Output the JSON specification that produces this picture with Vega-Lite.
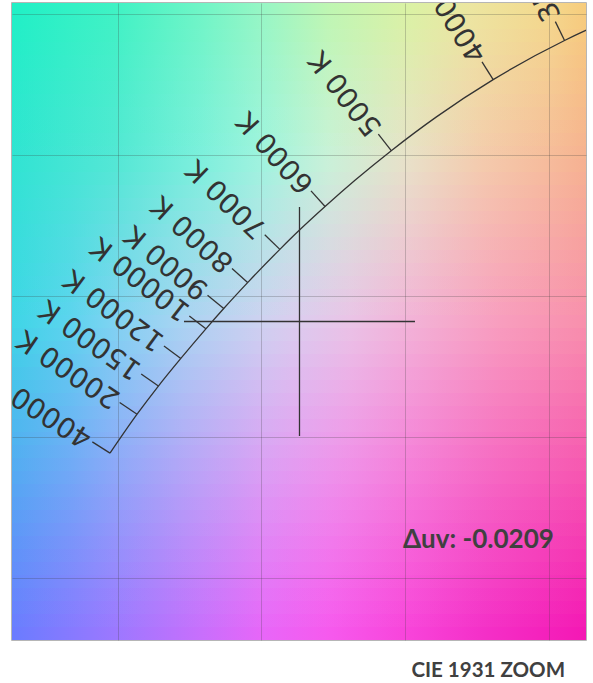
{
  "$schema": "https://vega.github.io/schema/vega-lite/v6.json",
  "width": 574,
  "height": 637,
  "autosize": {"type": "none"},
  "padding": {"left": 12, "top": 3, "right": 7, "bottom": 43},
  "background": "white",
  "config": {
    "view": {"stroke": "#9e9e9e", "strokeWidth": 1.5}
  },
  "title": {"text": "CIE 1931 ZOOM", "orient": "bottom", "anchor": "end", "dx": -21, "offset": 21, "font": "Lato", "fontSize": 20.5, "fontWeight": "bold", "color": "#404040"},
  "resolve": {"scale": {"opacity": "independent"}},
  "datasets": {
    "bands": [
      {"lo": 0.178, "hi": 0.182612}, {"lo": 0.182612, "hi": 0.187224}, {"lo": 0.187224, "hi": 0.191837}, {"lo": 0.191837, "hi": 0.196449},
      {"lo": 0.196449, "hi": 0.201061}, {"lo": 0.201061, "hi": 0.205673}, {"lo": 0.205673, "hi": 0.210286}, {"lo": 0.210286, "hi": 0.214898},
      {"lo": 0.214898, "hi": 0.21951}, {"lo": 0.21951, "hi": 0.224122}, {"lo": 0.224122, "hi": 0.228735}, {"lo": 0.228735, "hi": 0.233347},
      {"lo": 0.233347, "hi": 0.237959}, {"lo": 0.237959, "hi": 0.242571}, {"lo": 0.242571, "hi": 0.247184}, {"lo": 0.247184, "hi": 0.251796},
      {"lo": 0.251796, "hi": 0.256408}, {"lo": 0.256408, "hi": 0.26102}, {"lo": 0.26102, "hi": 0.265633}, {"lo": 0.265633, "hi": 0.270245},
      {"lo": 0.270245, "hi": 0.274857}, {"lo": 0.274857, "hi": 0.279469}, {"lo": 0.279469, "hi": 0.284082}, {"lo": 0.284082, "hi": 0.288694},
      {"lo": 0.288694, "hi": 0.293306}, {"lo": 0.293306, "hi": 0.297918}, {"lo": 0.297918, "hi": 0.302531}, {"lo": 0.302531, "hi": 0.307143},
      {"lo": 0.307143, "hi": 0.311755}, {"lo": 0.311755, "hi": 0.316367}, {"lo": 0.316367, "hi": 0.32098}, {"lo": 0.32098, "hi": 0.325592},
      {"lo": 0.325592, "hi": 0.330204}, {"lo": 0.330204, "hi": 0.334816}, {"lo": 0.334816, "hi": 0.339429}, {"lo": 0.339429, "hi": 0.344041},
      {"lo": 0.344041, "hi": 0.348653}, {"lo": 0.348653, "hi": 0.353265}, {"lo": 0.353265, "hi": 0.357878}, {"lo": 0.357878, "hi": 0.36249},
      {"lo": 0.36249, "hi": 0.367102}, {"lo": 0.367102, "hi": 0.371714}, {"lo": 0.371714, "hi": 0.376327}, {"lo": 0.376327, "hi": 0.380939},
      {"lo": 0.380939, "hi": 0.385551}, {"lo": 0.385551, "hi": 0.390163}, {"lo": 0.390163, "hi": 0.394776}, {"lo": 0.394776, "hi": 0.399388},
      {"lo": 0.399388, "hi": 0.404}
    ],
    "locus": [
      {"T": 40000, "x": 0.2474, "y": 0.2443},
      {"T": 20000, "x": 0.2568, "y": 0.2581},
      {"T": 15000, "x": 0.2642, "y": 0.2681},
      {"T": 12000, "x": 0.272, "y": 0.2779},
      {"T": 10000, "x": 0.2807, "y": 0.2884},
      {"T": 9000, "x": 0.2869, "y": 0.2956},
      {"T": 8000, "x": 0.2952, "y": 0.3048},
      {"T": 7000, "x": 0.3064, "y": 0.3166},
      {"T": 6500, "x": 0.3135, "y": 0.3237},
      {"T": 6000, "x": 0.3221, "y": 0.3318},
      {"T": 5500, "x": 0.3325, "y": 0.3411},
      {"T": 5000, "x": 0.3451, "y": 0.3516},
      {"T": 4500, "x": 0.3608, "y": 0.3636},
      {"T": 4000, "x": 0.3805, "y": 0.3768},
      {"T": 3500, "x": 0.4053, "y": 0.3907},
      {"T": 3200, "x": 0.4234, "y": 0.399},
      {"T": 3000, "x": 0.4369, "y": 0.4041}
    ],
    "ticks": [
      {"T": 3500, "label": "3500 K", "x": 0.4053, "y": 0.3907, "xo": 0.40210, "yo": 0.39740},
      {"T": 4000, "label": "4000 K", "x": 0.3805, "y": 0.3768, "xo": 0.37663, "yo": 0.38312},
      {"T": 5000, "label": "5000 K", "x": 0.3451, "y": 0.3516, "xo": 0.34061, "yo": 0.35747},
      {"T": 6000, "label": "6000 K", "x": 0.3221, "y": 0.3318, "xo": 0.31722, "yo": 0.33734},
      {"T": 7000, "label": "7000 K", "x": 0.3064, "y": 0.3166, "xo": 0.30115, "yo": 0.32178},
      {"T": 8000, "label": "8000 K", "x": 0.2952, "y": 0.3048, "xo": 0.28978, "yo": 0.30979},
      {"T": 9000, "label": "9000 K", "x": 0.2869, "y": 0.2956, "xo": 0.28127, "yo": 0.30034},
      {"T": 10000, "label": "10000 K", "x": 0.2807, "y": 0.2884, "xo": 0.27495, "yo": 0.29299},
      {"T": 12000, "label": "12000 K", "x": 0.272, "y": 0.2779, "xo": 0.26614, "yo": 0.28233},
      {"T": 15000, "label": "15000 K", "x": 0.2642, "y": 0.2681, "xo": 0.25823, "yo": 0.27238},
      {"T": 20000, "label": "20000 K", "x": 0.2568, "y": 0.2581, "xo": 0.25075, "yo": 0.26227},
      {"T": 40000, "label": "40000 K", "x": 0.2474, "y": 0.2443, "xo": 0.24125, "yo": 0.24830}
    ],
    "cross": [
      {"x": 0.2731, "x2": 0.35334, "y": 0.291, "y2": 0.291},
      {"x": 0.31322, "x2": 0.31322, "y": 0.33162, "y2": 0.25038}
    ],
    "note": [
      {"label": "Δuv: -0.0209"}
    ]
  },
  "layer": [
    {
      "data": {"name": "bands"},
      "mark": {"type": "rect", "fill": {"gradient": "linear", "stops": [
        {"offset": 0, "color": "#6a7cff"}, {"offset": 0.18, "color": "#9c78ff"}, {"offset": 0.33, "color": "#c86ffc"},
        {"offset": 0.44, "color": "#e866f8"}, {"offset": 0.55, "color": "#f65aee"}, {"offset": 0.69, "color": "#f844da"},
        {"offset": 0.82, "color": "#f430c8"}, {"offset": 1, "color": "#f418b4"}]}},
      "encoding": {
        "y": {"field": "lo", "type": "quantitative", "scale": {"domain": [0.178, 0.404], "nice": false, "zero": false},
              "axis": {"title": null, "values": [0.2, 0.25, 0.3, 0.35, 0.4], "grid": true, "labels": false, "ticks": false, "domain": false, "gridColor": "#3a3a3a", "gridOpacity": 0.25, "zindex": 1}},
        "y2": {"field": "hi"}
      }
    },
    {
      "data": {"name": "bands"},
      "mark": {"type": "rect", "fill": {"gradient": "linear", "stops": [
        {"offset": 0, "color": "#3ed6e6"}, {"offset": 0.1, "color": "#5cd4ee"}, {"offset": 0.18, "color": "#80d3f2"},
        {"offset": 0.3, "color": "#aad4f2"}, {"offset": 0.44, "color": "#cfd2f0"}, {"offset": 0.5, "color": "#dccdee"},
        {"offset": 0.59, "color": "#eac4e6"}, {"offset": 0.69, "color": "#f2b4d8"}, {"offset": 0.85, "color": "#f89ebe"},
        {"offset": 1, "color": "#f890ac"}]}},
      "encoding": {
        "y": {"field": "lo", "type": "quantitative", "scale": {"domain": [0.178, 0.404], "nice": false, "zero": false},
              "axis": {"title": null, "values": [0.2, 0.25, 0.3, 0.35, 0.4], "grid": true, "labels": false, "ticks": false, "domain": false, "gridColor": "#3a3a3a", "gridOpacity": 0.25, "zindex": 1}},
        "y2": {"field": "hi"},
        "opacity": {"field": "lo", "type": "quantitative", "legend": null, "scale": {"domain": [0.178, 0.289], "range": [0, 1], "clamp": true, "zero": false, "nice": false}}
      }
    },
    {
      "data": {"name": "bands"},
      "mark": {"type": "rect", "fill": {"gradient": "linear", "stops": [
        {"offset": 0, "color": "#30e4d2"}, {"offset": 0.18, "color": "#52e8d4"}, {"offset": 0.33, "color": "#7cf0dc"},
        {"offset": 0.44, "color": "#a0f4de"}, {"offset": 0.55, "color": "#c8f2d8"}, {"offset": 0.69, "color": "#e8e2c8"},
        {"offset": 0.82, "color": "#f4ccac"}, {"offset": 0.94, "color": "#f6bc9a"}, {"offset": 1, "color": "#f6b290"}]}},
      "encoding": {
        "y": {"field": "lo", "type": "quantitative", "scale": {"domain": [0.178, 0.404], "nice": false, "zero": false},
              "axis": {"title": null, "values": [0.2, 0.25, 0.3, 0.35, 0.4], "grid": true, "labels": false, "ticks": false, "domain": false, "gridColor": "#3a3a3a", "gridOpacity": 0.25, "zindex": 1}},
        "y2": {"field": "hi"},
        "opacity": {"field": "lo", "type": "quantitative", "legend": null, "scale": {"domain": [0.289, 0.347], "range": [0, 1], "clamp": true, "zero": false, "nice": false}}
      }
    },
    {
      "data": {"name": "bands"},
      "mark": {"type": "rect", "fill": {"gradient": "linear", "stops": [
        {"offset": 0, "color": "#20f0c6"}, {"offset": 0.18, "color": "#40f2c4"}, {"offset": 0.33, "color": "#70f5c6"},
        {"offset": 0.44, "color": "#98f6c4"}, {"offset": 0.55, "color": "#bef6b2"}, {"offset": 0.69, "color": "#daf2a4"},
        {"offset": 0.8, "color": "#ece6a0"}, {"offset": 0.94, "color": "#f4d88c"}, {"offset": 1, "color": "#f7cc7c"}]}},
      "encoding": {
        "y": {"field": "lo", "type": "quantitative", "scale": {"domain": [0.178, 0.404], "nice": false, "zero": false},
              "axis": {"title": null, "values": [0.2, 0.25, 0.3, 0.35, 0.4], "grid": true, "labels": false, "ticks": false, "domain": false, "gridColor": "#3a3a3a", "gridOpacity": 0.25, "zindex": 1}},
        "y2": {"field": "hi"},
        "opacity": {"field": "lo", "type": "quantitative", "legend": null, "scale": {"domain": [0.347, 0.4], "range": [0, 1], "clamp": true, "zero": false, "nice": false}}
      }
    },
    {
      "data": {"name": "locus"},
      "mark": {"type": "line", "color": "#333333", "strokeWidth": 1.3, "clip": true, "interpolate": "monotone"},
      "encoding": {
        "x": {"field": "x", "type": "quantitative", "scale": {"domain": [0.21335, 0.41275], "nice": false, "zero": false},
              "axis": {"title": null, "values": [0.25, 0.3, 0.35, 0.4], "grid": true, "labels": false, "ticks": false, "domain": false, "gridColor": "#3a3a3a", "gridOpacity": 0.25, "zindex": 1}},
        "y": {"field": "y", "type": "quantitative", "scale": {"domain": [0.178, 0.404], "nice": false, "zero": false},
              "axis": {"title": null, "values": [0.2, 0.25, 0.3, 0.35, 0.4], "grid": true, "labels": false, "ticks": false, "domain": false, "gridColor": "#3a3a3a", "gridOpacity": 0.25, "zindex": 1}}
      }
    },
    {
      "data": {"name": "ticks"},
      "mark": {"type": "rule", "color": "#333333", "strokeWidth": 1.3, "clip": true},
      "encoding": {
        "x": {"field": "x", "type": "quantitative", "scale": {"domain": [0.21335, 0.41275], "nice": false, "zero": false},
              "axis": {"title": null, "values": [0.25, 0.3, 0.35, 0.4], "grid": true, "labels": false, "ticks": false, "domain": false, "gridColor": "#3a3a3a", "gridOpacity": 0.25, "zindex": 1}},
        "y": {"field": "y", "type": "quantitative", "scale": {"domain": [0.178, 0.404], "nice": false, "zero": false},
              "axis": {"title": null, "values": [0.2, 0.25, 0.3, 0.35, 0.4], "grid": true, "labels": false, "ticks": false, "domain": false, "gridColor": "#3a3a3a", "gridOpacity": 0.25, "zindex": 1}},
        "x2": {"field": "xo"},
        "y2": {"field": "yo"}
      }
    },
    {
      "data": {"name": "ticks"},
      "mark": {"type": "text", "font": "DejaVu Sans", "fontSize": 28, "color": "#333333", "align": "left", "baseline": "middle", "dx": 3, "clip": true},
      "encoding": {
        "x": {"field": "xo", "type": "quantitative", "scale": {"domain": [0.21335, 0.41275], "nice": false, "zero": false},
              "axis": {"title": null, "values": [0.25, 0.3, 0.35, 0.4], "grid": true, "labels": false, "ticks": false, "domain": false, "gridColor": "#3a3a3a", "gridOpacity": 0.25, "zindex": 1}},
        "y": {"field": "yo", "type": "quantitative", "scale": {"domain": [0.178, 0.404], "nice": false, "zero": false},
              "axis": {"title": null, "values": [0.2, 0.25, 0.3, 0.35, 0.4], "grid": true, "labels": false, "ticks": false, "domain": false, "gridColor": "#3a3a3a", "gridOpacity": 0.25, "zindex": 1}},
        "text": {"field": "label"},
        "angle": {"field": "T", "type": "quantitative", "scale": {
          "domain": [3500, 4000, 5000, 6000, 7000, 8000, 9000, 10000, 12000, 15000, 20000, 40000],
          "range": [244, 238, 232, 228, 224, 222, 219.5, 218, 216.5, 215, 214, 212.5]}}
      }
    },
    {
      "data": {"name": "cross"},
      "mark": {"type": "rule", "color": "#333333", "strokeWidth": 1.3},
      "encoding": {
        "x": {"field": "x", "type": "quantitative", "scale": {"domain": [0.21335, 0.41275], "nice": false, "zero": false},
              "axis": {"title": null, "values": [0.25, 0.3, 0.35, 0.4], "grid": true, "labels": false, "ticks": false, "domain": false, "gridColor": "#3a3a3a", "gridOpacity": 0.25, "zindex": 1}},
        "y": {"field": "y", "type": "quantitative", "scale": {"domain": [0.178, 0.404], "nice": false, "zero": false},
              "axis": {"title": null, "values": [0.2, 0.25, 0.3, 0.35, 0.4], "grid": true, "labels": false, "ticks": false, "domain": false, "gridColor": "#3a3a3a", "gridOpacity": 0.25, "zindex": 1}},
        "x2": {"field": "x2"},
        "y2": {"field": "y2"}
      }
    },
    {
      "data": {"name": "note"},
      "mark": {"type": "text", "font": "Lato", "fontSize": 26, "fontWeight": "bold", "color": "#404040", "align": "right", "baseline": "middle"},
      "encoding": {
        "text": {"field": "label"},
        "x": {"datum": 0.40157, "type": "quantitative", "scale": {"domain": [0.21335, 0.41275], "nice": false, "zero": false},
              "axis": {"title": null, "values": [0.25, 0.3, 0.35, 0.4], "grid": true, "labels": false, "ticks": false, "domain": false, "gridColor": "#3a3a3a", "gridOpacity": 0.25, "zindex": 1}},
        "y": {"datum": 0.21348, "type": "quantitative", "scale": {"domain": [0.178, 0.404], "nice": false, "zero": false},
              "axis": {"title": null, "values": [0.2, 0.25, 0.3, 0.35, 0.4], "grid": true, "labels": false, "ticks": false, "domain": false, "gridColor": "#3a3a3a", "gridOpacity": 0.25, "zindex": 1}}
      }
    }
  ]
}
